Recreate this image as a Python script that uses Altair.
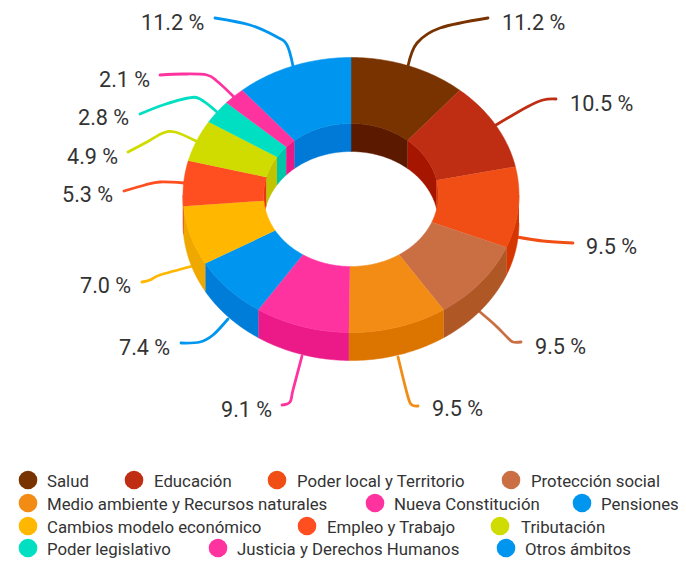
import math
import altair as alt
import pandas as pd

names = ["Salud", "Educación", "Poder local y Territorio", "Protección social",
         "Medio ambiente y Recursos naturales", "Nueva Constitución", "Pensiones",
         "Cambios modelo económico", "Empleo y Trabajo", "Tributación",
         "Poder legislativo", "Justicia y Derechos Humanos", "Otros ámbitos"]
values = [11.2, 10.5, 9.5, 9.5, 9.5, 9.1, 7.4, 7.0, 5.3, 4.9, 2.8, 2.1, 11.2]
top_colors = ["#793300", "#BF2E12", "#F04E14", "#C96F43", "#F28C14", "#FF339F", "#0096F0",
              "#FFB700", "#FF4E20", "#D0DC00", "#00DFC2", "#FF339F", "#0096F0"]
side_colors = ["#5B1A00", "#A51500", "#D63600", "#B05726", "#DC7500", "#EB1A88", "#007DD8",
               "#EFA800", "#E6380A", "#BFC300", "#00C6A9", "#E81A88", "#007AD6"]

label_x = [502, 570, 586, 535, 432, 221, 119, 80, 62, 67, 78, 99, 141]
label_y = [24, 105, 248, 348, 410, 411, 349, 287, 196, 158, 119, 81, 24]

conn_x = [[488, 440, 417, 408], [556, 543, 527, 496], [573, 543, 517],
          [521, 513, 508, 495, 480], [418, 412, 408, 398], [282, 290, 293, 302],
          [181, 200, 213, 228], [142, 150, 160, 193], [124, 145, 160, 184],
          [128, 147, 163, 175, 196], [140, 163, 188, 200, 217],
          [160, 183, 207, 218, 234], [215, 250, 277, 287, 293]]
conn_y = [[18, 28, 43, 66], [99, 100, 107, 125], [243, 241, 237],
          [342, 342, 338, 325, 312], [406, 405, 397, 357], [405, 402, 390, 356],
          [343, 342, 335, 319], [282, 280, 275, 266], [191, 185, 182, 183],
          [152, 142, 133, 132, 141], [114, 105, 98, 99, 112],
          [75, 74, 75, 82, 97], [18, 25, 37, 45, 66]]

legend_marker_x = [28, 134, 277, 511, 28, 375, 582, 28, 307, 500, 28, 218, 506]
legend_text_x = [47, 154, 297, 531, 47, 394, 601, 47, 327, 521, 47, 237, 525]
legend_row = [0, 0, 0, 0, 1, 1, 1, 2, 2, 2, 3, 3, 3]
row_marker_y = [480, 503, 526, 548]
row_text_y = [482, 505, 528, 550]

CX, CY, RX, RY, RATIO, DEPTH = 351, 195, 168, 137.5, 0.52, 28


def pt(a, r, dz=0):
    t = math.radians(a)
    return CX + RX * r * math.sin(t), CY - RY * r * math.cos(t) + dz


def steps(a, b):
    n = max(2, int(abs(b - a)) + 2)
    return [a + (b - a) * k / (n - 1) for k in range(n)]


polys = []
poly_count = [0]


def add(points, color):
    pid = poly_count[0]
    poly_count[0] += 1
    for i, (x, y) in enumerate(points):
        polys.append({"poly": pid, "i": i, "x": x, "y": y, "c": color})


bounds = []
acc = 0
total = sum(values)
for v in values:
    bounds.append((acc / total * 360, (acc + v) / total * 360))
    acc += v

# inner walls (far side of the hole)
for (a, b), c in zip(bounds, side_colors):
    for lo, hi in ((max(a, 0), min(b, 90)), (max(a, 270), min(b, 360))):
        if hi > lo:
            s = steps(lo, hi)
            add([pt(t, RATIO) for t in s] + [pt(t, RATIO, DEPTH) for t in reversed(s)], c)
# outer walls (near side)
for (a, b), c in zip(bounds, side_colors):
    lo, hi = max(a, 90), min(b, 270)
    if hi > lo:
        s = steps(lo, hi)
        add([pt(t, 1) for t in s] + [pt(t, 1, DEPTH) for t in reversed(s)], c)
# top faces
for (a, b), c in zip(bounds, top_colors):
    s = steps(a, b)
    add([pt(t, 1) for t in s] + [pt(t, RATIO) for t in reversed(s)], c)

SX = alt.Scale(domain=[8, 678], range=[0, 670])
SY = alt.Scale(domain=[8, 563], range=[0, 555])
X = alt.X("x:Q", scale=SX, axis=None)
Y = alt.Y("y:Q", scale=SY, axis=None)

conn_rows = []
for k, (xs, ys) in enumerate(zip(conn_x, conn_y)):
    for i, (x, y) in enumerate(zip(xs, ys)):
        conn_rows.append({"s": k, "i": i, "x": x, "y": y, "c": top_colors[k]})

connectors = alt.Chart(pd.DataFrame(conn_rows)).mark_line(
    interpolate="cardinal", strokeWidth=2.8, strokeCap="round"
).encode(x=X, y=Y, detail="s:N", order="i:Q", stroke=alt.Stroke("c:N", scale=None))

pie = alt.Chart(pd.DataFrame(polys)).mark_line(strokeWidth=0.5).encode(
    x=X, y=Y, detail="poly:N", order="i:Q",
    fill=alt.Fill("c:N", scale=None), stroke=alt.Stroke("c:N", scale=None))

labels = alt.Chart(pd.DataFrame({
    "x": label_x, "y": label_y, "t": [f"{v:.1f} %" for v in values]
})).mark_text(align="left", baseline="middle", font="Roboto", fontSize=21.6, color="#333333").encode(
    x=X, y=Y, text="t:N")

legend_df = pd.DataFrame({
    "x": legend_marker_x, "y": [row_marker_y[r] for r in legend_row],
    "tx": legend_text_x, "ty": [row_text_y[r] for r in legend_row],
    "name": names, "c": top_colors})
markers = alt.Chart(legend_df).mark_point(filled=True, size=346, opacity=1, shape="circle").encode(
    x=X, y=Y, fill=alt.Fill("c:N", scale=None))
legend_text = alt.Chart(legend_df).mark_text(
    align="left", baseline="middle", font="Roboto", fontSize=16.8, color="#333333"
).encode(x=alt.X("tx:Q", scale=SX, axis=None), y=alt.Y("ty:Q", scale=SY, axis=None), text="name:N")

chart = alt.layer(connectors, pie, labels, markers, legend_text).properties(
    width=670, height=555, padding=0, autosize=alt.AutoSizeParams(type="none")
).configure_view(stroke=None)
chart.save("out.html", embed_options={"renderer": "svg", "actions": False})
